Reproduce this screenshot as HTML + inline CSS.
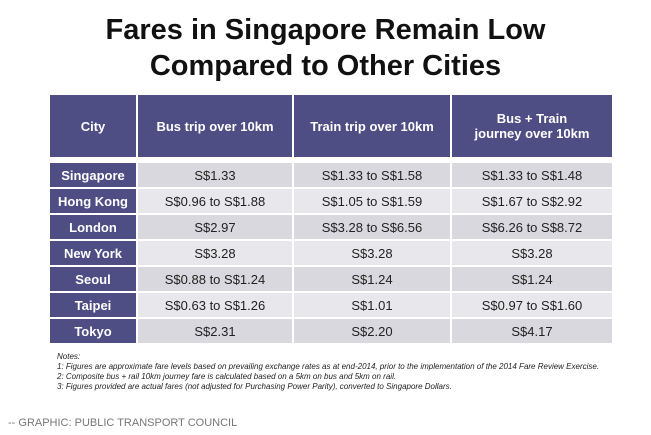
<!DOCTYPE html>
<html><head><meta charset="utf-8"><style>
body{margin:0;width:651px;height:435px;background:#fff;font-family:"Liberation Sans",sans-serif;position:relative;overflow:hidden}
.t{position:absolute;left:0;width:651px;text-align:center;font-weight:bold;font-size:29px;color:#111}
table{position:absolute;left:48px;top:93px;border-collapse:separate;border-spacing:2px;width:566px}
td,th{text-align:center;font-size:13px;color:#222;padding:0}
th{background:#4e4e85;color:#fff;height:62px;font-size:13px}
td.c{background:#4e4e85;color:#fff;font-weight:bold}
tr.a td{background:#d8d8de}
tr.b td{background:#e8e8ec}
tr.a td.c,tr.b td.c{background:#4e4e85}
td{height:24px}
.n{position:absolute;left:57px;top:352px;font-size:8px;font-style:italic;color:#222;line-height:10px}
.cr{position:absolute;left:8px;top:417px;font-size:11px;color:#777}
</style></head><body>
<div class="t" style="top:14px">Fares in Singapore Remain Low</div>
<div class="t" style="top:50px">Compared to Other Cities</div>
<table>
<tr><th style="width:86px">City</th><th style="width:154px">Bus trip over 10km</th><th style="width:156px">Train trip over 10km</th><th>Bus + Train<br>journey over 10km</th></tr>
<tr style="height:2px"><td colspan="4" style="height:0;background:#fff"></td></tr>
<tr class="a"><td class="c">Singapore</td><td>S$1.33</td><td>S$1.33 to S$1.58</td><td>S$1.33 to S$1.48</td></tr>
<tr class="b"><td class="c">Hong Kong</td><td>S$0.96 to S$1.88</td><td>S$1.05 to S$1.59</td><td>S$1.67 to S$2.92</td></tr>
<tr class="a"><td class="c">London</td><td>S$2.97</td><td>S$3.28 to S$6.56</td><td>S$6.26 to S$8.72</td></tr>
<tr class="b"><td class="c">New York</td><td>S$3.28</td><td>S$3.28</td><td>S$3.28</td></tr>
<tr class="a"><td class="c">Seoul</td><td>S$0.88 to S$1.24</td><td>S$1.24</td><td>S$1.24</td></tr>
<tr class="b"><td class="c">Taipei</td><td>S$0.63 to S$1.26</td><td>S$1.01</td><td>S$0.97 to S$1.60</td></tr>
<tr class="a"><td class="c">Tokyo</td><td>S$2.31</td><td>S$2.20</td><td>S$4.17</td></tr>
</table>
<div class="n">Notes:<br>1: Figures are approximate fare levels based on prevailing exchange rates as at end-2014, prior to the implementation of the 2014 Fare Review Exercise.<br>2: Composite bus + rail 10km journey fare is calculated based on a 5km on bus and 5km on rail.<br>3: Figures provided are actual fares (not adjusted for Purchasing Power Parity), converted to Singapore Dollars.</div>
<div class="cr">-- GRAPHIC: PUBLIC TRANSPORT COUNCIL</div>
</body></html>
